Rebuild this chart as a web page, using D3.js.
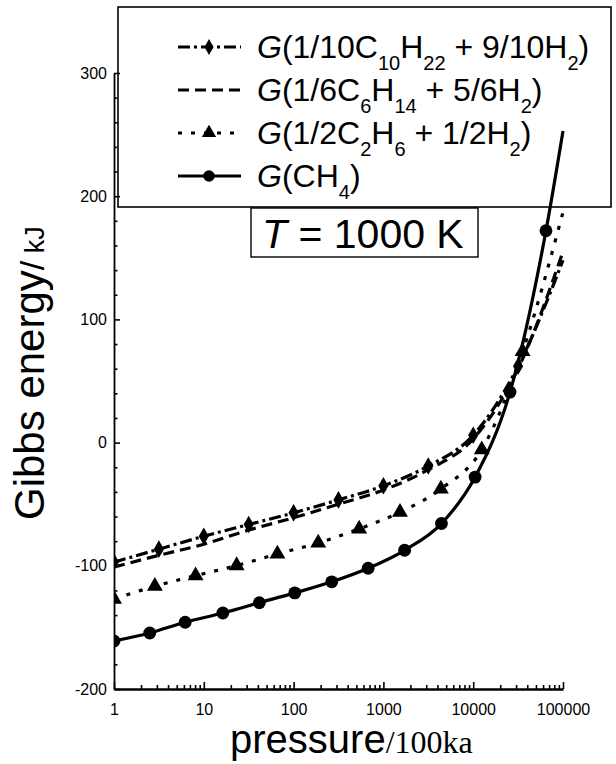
<!DOCTYPE html>
<html><head><meta charset="utf-8">
<script src="https://cdn.jsdelivr.net/npm/d3@7"></script>
<style>body{margin:0;background:#fff}svg{display:block}</style>
</head><body><svg id="c" width="616" height="764"></svg>
<script>
// ---- data ----
const pressureTicks = [1, 10, 100, 1000, 10000, 100000];
const energyTicks = [-200, -100, 0, 100, 200, 300];

const pC10 = [1, 3.16, 10, 31.6, 100, 316, 1000, 3160, 10000, 31600, 100000];
const gC10 = [-97, -86.5, -76, -66.5, -57, -46.5, -35, -19, 6, 62, 148];

const pC6 = [1, 3.16, 10, 31.6, 100, 316, 1000, 3160, 10000, 31600, 100000];
const gC6 = [-101, -91.5, -82.5, -71, -61, -50, -38.5, -22, 3, 60, 155];

const pC2 = [1, 2.85, 8.1, 23.2, 66, 188, 537, 1530, 4365, 12450, 35480, 100000];
const gC2 = [-127, -116.6, -108, -99.8, -90.4, -81.4, -70, -56.5, -37.6, -5.7, 74, 187];

const pCH4 = [1, 2.5, 6.2, 16.3, 41.5, 103, 266, 676, 1722, 4430, 10500, 25700, 64600, 100000];
const gCH4 = [-161, -154.5, -145.8, -138.3, -130, -122, -113, -102, -87.4, -65.7, -28, 41, 172, 253];

const legendLabels = [
  [["G","i"],["(1/10C",""],["10","s"],["H",""],["22","s"],[" + 9/10H",""],["2","s"],[")",""]],
  [["G","i"],["(1/6C",""],["6","s"],["H",""],["14","s"],[" + 5/6H",""],["2","s"],[")",""]],
  [["G","i"],["(1/2C",""],["2","s"],["H",""],["6","s"],[" + 1/2H",""],["2","s"],[")",""]],
  [["G","i"],["(CH",""],["4","s"],[")",""]]
];

// ---- setup ----
const svg = d3.select("#c");
const x = d3.scaleLog().domain([1, 100000]).range([114, 563]);
const y = d3.scaleLinear().domain([-200, 300]).range([689, 73]);

const series = [
  {p: pC10, g: gC10, dash: "12,4,3,4", sym: d3.symbolDiamond, size: 90, marks: true, w: 3.2},
  {p: pC6, g: gC6, dash: "11,6", sym: null, marks: false, w: 3.2},
  {p: pC2, g: gC2, dash: "4,9", sym: d3.symbolTriangle, size: 110, marks: true, w: 3.2},
  {p: pCH4, g: gCH4, dash: null, sym: d3.symbolCircle, size: 130, marks: true, w: 3.2}
];

// clip
svg.append("defs").append("clipPath").attr("id","clip")
  .append("rect").attr("x", 114).attr("y", 0).attr("width", 502).attr("height", 689);

// axes
const font = "Liberation Sans, Arial, sans-serif";
const yMinor = d3.range(-200, 301, 20).filter(v => v % 100 !== 0);
const gy = svg.append("g").attr("transform", "translate(114,0)")
  .call(d3.axisLeft(y).tickValues(energyTicks).tickSize(-6).tickSizeOuter(0).tickPadding(7)
    .tickFormat(d => String(d)));
svg.append("g").attr("transform", "translate(114,0)")
  .call(d3.axisLeft(y).tickValues(yMinor).tickSize(-3.5).tickSizeOuter(0).tickFormat(""))
  .select(".domain").remove();

const xMinor = [];
for (let e = 0; e < 5; e++) for (let k = 2; k <= 9; k++) xMinor.push(k * Math.pow(10, e));
const gx = svg.append("g").attr("transform", "translate(0,689)")
  .call(d3.axisBottom(x).tickValues(pressureTicks).tickSize(-7).tickSizeOuter(0).tickPadding(15)
    .tickFormat(d => String(d)));
svg.append("g").attr("transform", "translate(0,689)")
  .call(d3.axisBottom(x).tickValues(xMinor).tickSize(-4).tickSizeOuter(0).tickFormat(""))
  .select(".domain").remove();

svg.selectAll(".tick text").attr("font-family", font).attr("font-size", 16).attr("fill", "#000");
svg.selectAll(".tick line").attr("stroke", "#000").attr("stroke-width", 1.6);
gy.select(".domain").attr("stroke", "#000").attr("stroke-width", 1.8);
gx.select(".domain").attr("stroke", "#000").attr("stroke-width", 2.6);

// curves
const plot = svg.append("g").attr("clip-path", "url(#clip)");
const line = d3.line().x(d => x(d[0])).y(d => y(d[1])).curve(d3.curveMonotoneX);
series.forEach(s => {
  const pts = s.p.map((p, i) => [p, s.g[i]]);
  plot.append("path").datum(pts).attr("d", line)
    .attr("fill", "none").attr("stroke", "#000").attr("stroke-width", s.w)
    .attr("stroke-dasharray", s.dash);
  if (s.marks) {
    plot.selectAll(null).data(pts.slice(0, -1)).enter().append("path")
      .attr("d", d3.symbol(s.sym, s.size))
      .attr("transform", d => `translate(${x(d[0])},${y(d[1])})`)
      .attr("fill", "#000");
  }
});

// legend box
svg.append("rect").attr("x", 118).attr("y", 7).attr("width", 493).attr("height", 200)
  .attr("fill", "none").attr("stroke", "#000").attr("stroke-width", 1.6);

const rowY = [58, 101, 144, 187];
legendLabels.forEach((parts, i) => {
  const s = series[i];
  const cy = rowY[i] - 11;
  svg.append("line").attr("x1", 178).attr("x2", 241).attr("y1", cy).attr("y2", cy)
    .attr("stroke", "#000").attr("stroke-width", 3).attr("stroke-dasharray", s.dash);
  if (s.marks) {
    svg.append("path").attr("d", d3.symbol(s.sym, s.size * 0.8))
      .attr("transform", `translate(209,${cy})`).attr("fill", "#000");
  }
  const t = svg.append("text").attr("x", 257).attr("y", rowY[i])
    .attr("font-family", font).attr("font-size", 32).attr("fill", "#000");
  let down = false;
  parts.forEach(([txt, kind]) => {
    const ts = t.append("tspan").text(txt);
    if (kind === "s") { ts.attr("font-size", 20).attr("dy", down ? 0 : 12); down = true; }
    else { if (down) ts.attr("dy", -12); down = false; if (kind === "i") ts.attr("font-style", "italic"); }
  });
});

// T = 1000 K box
svg.append("rect").attr("x", 251).attr("y", 208).attr("width", 227).attr("height", 49)
  .attr("fill", "#fff").attr("stroke", "#000").attr("stroke-width", 1.4);
const tt = svg.append("text").attr("x", 262).attr("y", 248)
  .attr("font-family", font).attr("font-size", 41).attr("fill", "#000");
tt.append("tspan").attr("font-style", "italic").text("T");
tt.append("tspan").text(" = 1000 K");

// axis titles
const yl = svg.append("text").attr("transform", "translate(44,520) rotate(-90)")
  .attr("font-family", font).attr("fill", "#000");
yl.append("tspan").attr("font-size", 42).text("Gibbs energy");
yl.append("tspan").attr("font-size", 34).text("/");
yl.append("tspan").attr("font-size", 27).text(" kJ");

const xl = svg.append("text").attr("x", 230).attr("y", 753).attr("fill", "#000");
xl.append("tspan").attr("font-family", font).attr("font-size", 40).text("pressure");
xl.append("tspan").attr("font-family", "Liberation Serif, Times New Roman, serif").attr("font-size", 32).text("/100ka");
</script></body></html>
